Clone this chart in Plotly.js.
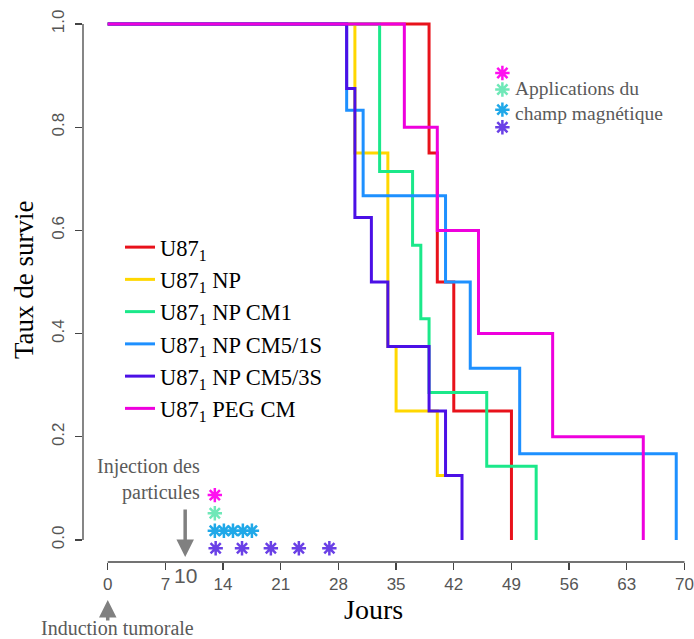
<!DOCTYPE html>
<html><head><meta charset="utf-8">
<script src="https://cdn.plot.ly/plotly-3.0.1.min.js"></script>
<style>html,body{margin:0;padding:0;background:#fff}#chart{width:694px;height:639px}</style>
</head><body><div id="chart"></div><script>
// ---- data ----
const groupNames = ["U87<sub>1</sub>", "U87<sub>1</sub> NP", "U87<sub>1</sub> NP CM1", "U87<sub>1</sub> NP CM5/1S", "U87<sub>1</sub> NP CM5/3S", "U87<sub>1</sub> PEG CM"];
const daysU87     = [0, 39, 40, 42, 49];
const survU87     = [1, 0.75, 0.5, 0.25, 0];
const daysNP      = [0, 30, 34, 35, 40, 41];
const survNP      = [1, 0.75, 0.375, 0.25, 0.125, 0.125];
const daysCM1     = [0, 33, 37, 38, 39, 46, 52];
const survCM1     = [1, 0.714, 0.571, 0.429, 0.286, 0.143, 0];
const daysCM51S   = [0, 29, 31, 41, 44, 50, 69];
const survCM51S   = [1, 0.833, 0.667, 0.5, 0.333, 0.167, 0];
const daysCM53S   = [0, 29, 30, 32, 34, 39, 41, 43];
const survCM53S   = [1, 0.875, 0.625, 0.5, 0.375, 0.25, 0.125, 0];
const daysPEG     = [0, 36, 40, 45, 54, 65];
const survPEG     = [1, 0.8, 0.6, 0.4, 0.2, 0];
// magnetic field application days
const fieldPEG    = [13];
const fieldCM1    = [13];
const fieldCM51S  = [13, 14.1, 15.2, 16.4, 17.5];
const fieldCM53S  = [13.1, 16.3, 19.8, 23.2, 26.9];
const injectionDay = 9.4;
const injectionLabel = "10";
const xTickVals = [0, 7, 14, 21, 28, 35, 42, 49, 56, 63, 70];
const yTickVals = [0, 0.2, 0.4, 0.6, 0.8, 1.0];
const yTickText = ["0.0", "0.2", "0.4", "0.6", "0.8", "1.0"];

// ---- styles ----
const lineColors = ["#e8121b", "#ffd700", "#1be88a", "#1e90ff", "#4b10e6", "#ee00dd"];
const starColors = {peg: "#ff10f0", cm1: "#6fe8b8", cm51: "#20a8e8", cm53: "#6a40e6"};
const serif = "Liberation Serif";
const sans = "Liberation Sans";
const gray = "#5a5a5a";

const W = 694, H = 639, M = {l: 83, r: 4, t: 15, b: 77};
const PW = W - M.l - M.r, PH = H - M.t - M.b;
const xRange = [-3.0, 70.67];
const yRange = [-0.0426, 1.0174];
const px2paperX = px => (px - M.l) / PW;
const px2paperY = py => (H - M.b - py) / PH;

const dayArrays = [daysU87, daysNP, daysCM1, daysCM51S, daysCM53S, daysPEG];
const survArrays = [survU87, survNP, survCM1, survCM51S, survCM53S, survPEG];
const traces = dayArrays.map((d, i) => ({
  type: "scatter", mode: "lines", x: d, y: survArrays[i], name: groupNames[i],
  line: {shape: "hv", color: lineColors[i], width: 3}
}));

function stars(xs, yRow, color) {
  return {type: "scatter", mode: "markers", x: xs, y: xs.map(() => yRow), showlegend: false,
    cliponaxis: false,
    marker: {symbol: "asterisk-open", size: 12, color: color, line: {color: color, width: 2.5}}};
}
traces.push(stars(fieldPEG, 0.087, starColors.peg));
traces.push(stars(fieldCM1, 0.052, starColors.cm1));
traces.push(stars(fieldCM51S, 0.018, starColors.cm51));
traces.push(stars(fieldCM53S, -0.016, starColors.cm53));
// key asterisks (top right)
const keyX = 47.9;
traces.push(stars([keyX], 0.905, starColors.peg));
traces.push(stars([keyX], 0.873, starColors.cm1));
traces.push(stars([keyX], 0.834, starColors.cm51));
traces.push(stars([keyX], 0.800, starColors.cm53));

const layout = {
  width: W, height: H, margin: M, paper_bgcolor: "#fff", plot_bgcolor: "#fff",
  showlegend: true,
  legend: {x: px2paperX(120), xanchor: "left", y: px2paperY(226), yanchor: "top",
    font: {family: serif, size: 22.5, color: "#000"}, bgcolor: "rgba(0,0,0,0)", borderwidth: 0},
  xaxis: {range: xRange, showgrid: false, zeroline: false, showline: false,
    tickmode: "array", tickvals: xTickVals, ticks: "outside", ticklen: 7, tickwidth: 1.3, tickcolor: "#444",
    tickfont: {family: sans, size: 17, color: "#555"}},
  yaxis: {range: yRange, showgrid: false, zeroline: false, showline: false,
    tickmode: "array", tickvals: yTickVals, ticktext: yTickText, ticks: "outside", ticklen: 7, tickwidth: 1.3, tickcolor: "#444",
    tickangle: -90, ticklabelstandoff: 4, tickfont: {family: sans, size: 17, color: "#555"}},
  shapes: [
    {type: "line", xref: "x", yref: "paper", x0: xTickVals[0], x1: xTickVals[xTickVals.length - 1], y0: 0, y1: 0,
      line: {color: "#444", width: 1.3}},
    {type: "line", xref: "paper", yref: "y", x0: 0, x1: 0, y0: yTickVals[0], y1: yTickVals[yTickVals.length - 1],
      line: {color: "#444", width: 1.3}}
  ],
  annotations: [
    {text: "Jours", xref: "paper", yref: "paper", x: px2paperX(373), y: px2paperY(609), showarrow: false,
      xanchor: "center", yanchor: "middle", font: {family: serif, size: 28, color: "#000"}},
    {text: "Taux de survie", xref: "paper", yref: "paper", x: px2paperX(24), y: px2paperY(280), showarrow: false,
      textangle: -90, xanchor: "center", yanchor: "middle", font: {family: serif, size: 27, color: "#000"}},
    {text: "Injection des<br>particules", xref: "x", yref: "y", x: 11.45, y: 0.117, showarrow: false,
      xanchor: "right", yanchor: "middle", align: "right", font: {family: serif, size: 20, color: gray}},
    {text: "", xref: "x", yref: "y", x: injectionDay, y: -0.033, ax: 0, ay: -49, showarrow: true,
      arrowhead: 2, arrowsize: 1, arrowwidth: 3.5, arrowcolor: "#808080", standoff: 0},
    {text: injectionLabel, xref: "x", yref: "paper", x: injectionDay, y: px2paperY(575), showarrow: false,
      xanchor: "center", yanchor: "middle", font: {family: sans, size: 21, color: gray}},
    {text: "", xref: "x", yref: "paper", x: 0, y: px2paperY(600), ax: 0, ay: 22, showarrow: true,
      arrowhead: 2, arrowsize: 1, arrowwidth: 3.5, arrowcolor: "#808080", standoff: 0},
    {text: "Induction tumorale", xref: "paper", yref: "paper", x: px2paperX(117), y: px2paperY(628), showarrow: false,
      xanchor: "center", yanchor: "middle", font: {family: serif, size: 20, color: gray}},
    {text: "Applications du<br>champ magnétique", xref: "x", yref: "y", x: 49.2, y: 0.851, showarrow: false,
      xanchor: "left", yanchor: "middle", align: "left", font: {family: serif, size: 19.5, color: gray}}
  ]
};
Plotly.newPlot("chart", traces, layout, {staticPlot: true, displayModeBar: false});
</script></body></html>
